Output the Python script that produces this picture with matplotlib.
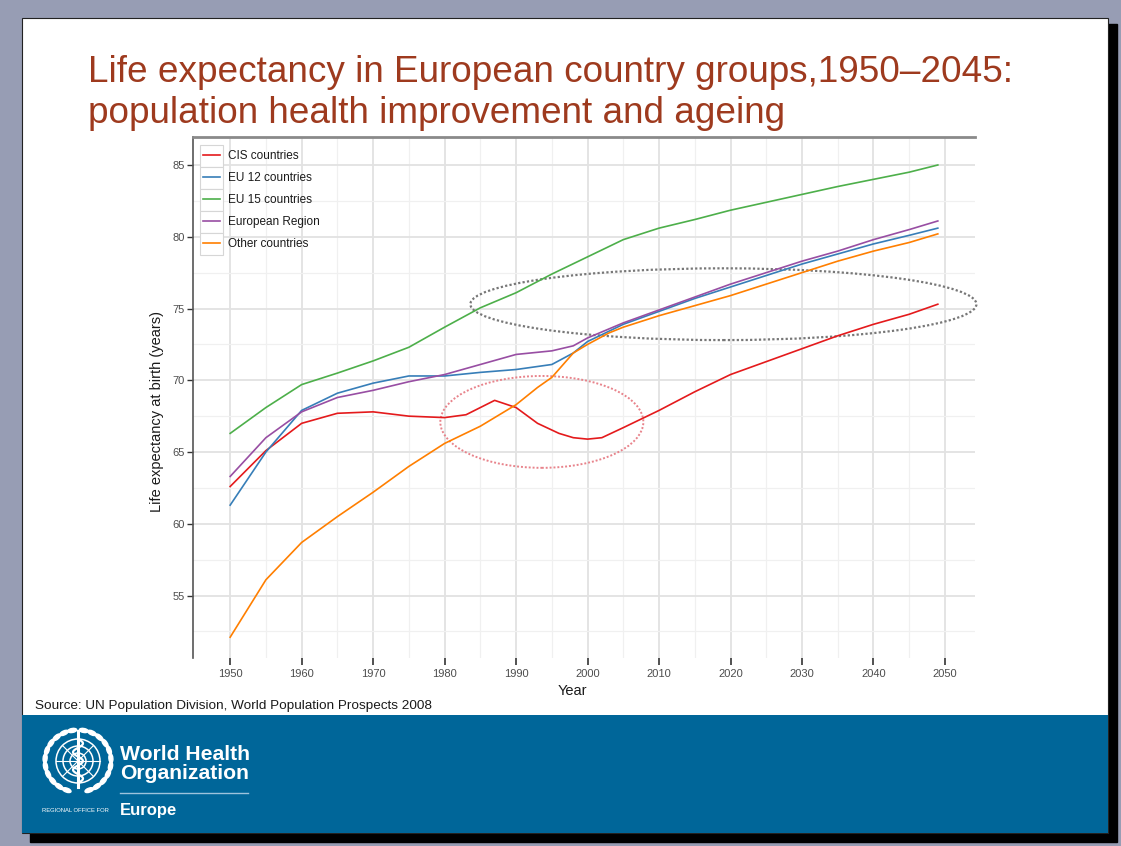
import numpy as np
import matplotlib
matplotlib.use("Agg")
from matplotlib import pyplot as plt
from matplotlib.patches import Rectangle, Ellipse, Circle

plt.rcParams["font.family"] = ["Liberation Sans", "DejaVu Sans"]

# life expectancy at birth (years)
years_cis = [1950, 1955, 1960, 1965, 1970, 1975, 1980, 1983, 1987, 1990, 1993, 1996, 1998,
             2000, 2002, 2005, 2010, 2015, 2020, 2025, 2030, 2035, 2040, 2045, 2049]
cis = [62.6, 65.1, 67.0, 67.7, 67.8, 67.5, 67.4, 67.6, 68.6, 68.1, 67.0, 66.3, 66.0,
       65.9, 66.0, 66.7, 67.9, 69.2, 70.4, 71.3, 72.2, 73.1, 73.9, 74.6, 75.3]

years_eu = [1950, 1955, 1960, 1965, 1970, 1975, 1980, 1985, 1990, 1995, 1998,
            2000, 2005, 2010, 2015, 2020, 2025, 2030, 2035, 2040, 2045, 2049]
eu12 = [61.3, 65.0, 67.9, 69.1, 69.8, 70.3, 70.3, 70.55, 70.75, 71.1, 71.9,
        72.7, 73.9, 74.8, 75.7, 76.5, 77.3, 78.1, 78.8, 79.5, 80.1, 80.6]
euro_region = [63.3, 66.0, 67.8, 68.8, 69.3, 69.9, 70.4, 71.1, 71.8, 72.05, 72.4,
               72.95, 74.0, 74.9, 75.8, 76.7, 77.5, 78.3, 79.0, 79.8, 80.5, 81.1]

years_eu15 = [1950, 1955, 1960, 1965, 1970, 1975, 1980, 1985, 1990, 1995, 2000,
              2005, 2010, 2015, 2020, 2025, 2030, 2035, 2040, 2045, 2049]
eu15 = [66.3, 68.1, 69.7, 70.5, 71.35, 72.3, 73.7, 75.05, 76.1, 77.4, 78.6,
        79.8, 80.6, 81.2, 81.85, 82.4, 82.95, 83.5, 84.0, 84.5, 85.0]

years_other = [1950, 1955, 1960, 1965, 1970, 1975, 1980, 1985, 1990, 1993, 1995, 1998,
               2000, 2003, 2005, 2010, 2015, 2020, 2025, 2030, 2035, 2040, 2045, 2049]
other = [52.1, 56.1, 58.7, 60.5, 62.2, 64.0, 65.6, 66.8, 68.3, 69.5, 70.2, 71.9,
         72.5, 73.3, 73.7, 74.5, 75.2, 75.9, 76.7, 77.5, 78.3, 79.0, 79.6, 80.2]

series = [
    ("CIS countries", years_cis, cis, "#E41A1C"),
    ("EU 12 countries", years_eu, eu12, "#377EB8"),
    ("EU 15 countries", years_eu15, eu15, "#4DAF4A"),
    ("European Region", years_eu, euro_region, "#984EA3"),
    ("Other countries", years_other, other, "#FF7F00"),
]

W, H = 1121, 846
fig = plt.figure(figsize=(W / 100, H / 100), dpi=100)
fig.patch.set_facecolor("#979DB4")

# slide background, drawn in pixel coordinates
deco = fig.add_axes([0, 0, 1, 1])
deco.set_xlim(0, W)
deco.set_ylim(H, 0)
deco.axis("off")
deco.add_patch(Rectangle((30, 24), 1087, 818, color="black"))
deco.add_patch(Rectangle((22, 18), 1086, 815, facecolor="white", edgecolor="#222222", lw=0.8))
deco.add_patch(Rectangle((22, 715), 1086, 118, facecolor="#006699", edgecolor="none"))

title_color = "#9E3A1E"
deco.text(88, 82, "Life expectancy in European country groups,1950\u20132045:",
          fontsize=26.6, color=title_color, va="baseline")
deco.text(88, 123, "population health improvement and ageing",
          fontsize=26.6, color=title_color, va="baseline")
deco.text(35, 706, "Source: UN Population Division, World Population Prospects 2008",
          fontsize=9.7, color="#1a1a1a", va="center")

# WHO emblem (simplified)
cx, cy = 78, 761
for r in (8, 15, 22):
    deco.add_patch(Circle((cx, cy), r, fill=False, ec="white", lw=1.1))
for ang in np.arange(0, 180, 45):
    a = np.deg2rad(ang)
    deco.plot([cx - 22 * np.cos(a), cx + 22 * np.cos(a)],
              [cy - 22 * np.sin(a), cy + 22 * np.sin(a)], color="white", lw=0.8)
deco.plot([cx, cx], [cy - 30, cy + 26], color="white", lw=2.2)
t = np.linspace(0, 1, 60)
deco.plot(cx + 5 * np.sin(t * 5 * np.pi), cy - 22 + 44 * t, color="white", lw=1.6)
for side in (-1, 1):
    for ang in np.linspace(100, 250, 11):
        a = np.deg2rad(ang)
        lx = cx + side * 33 * np.cos(a) * -1
        ly = cy + 31 * np.sin(a) * -1
        deco.add_patch(Ellipse((lx, ly), 4, 9, angle=side * (ang - 180), color="white"))

logo_font = ["Liberation Sans Narrow", "Liberation Sans"]
deco.text(120, 760, "World Health", fontsize=15.2, fontweight="bold", color="white",
          va="baseline", family=logo_font)
deco.text(120, 779, "Organization", fontsize=15.2, fontweight="bold", color="white",
          va="baseline", family=logo_font)
deco.plot([120, 248], [793, 793], color="#9EC3DC", lw=1)
deco.text(120, 815, "Europe", fontsize=12, fontweight="bold", color="white",
          va="baseline", family=logo_font)
deco.text(42, 811, "REGIONAL OFFICE FOR", fontsize=4.2, color="white", va="center",
          family=logo_font)

# chart panel
L, R, T, B = 193, 975, 137, 658
ax = fig.add_axes([L / W, 1 - B / H, (R - L) / W, (B - T) / H])
ax.set_facecolor("none")
ax.set_xlim(1944.8, 2054.2)
ax.set_ylim(50.65, 86.95)

ax.set_xticks(np.arange(1950, 2051, 10))
ax.set_xticks(np.arange(1955, 2050, 10), minor=True)
ax.set_yticks(np.arange(55, 86, 5))
ax.set_yticks(np.arange(52.5, 85, 5), minor=True)
ax.grid(True, which="major", color="#E2E2E2", lw=1.3)
ax.grid(True, which="minor", color="#F0F0F0", lw=0.9)
ax.set_axisbelow(True)

for sp in ("right", "bottom"):
    ax.spines[sp].set_visible(False)
ax.spines["left"].set_color("#555555")
ax.spines["left"].set_linewidth(1.2)
ax.spines["top"].set_color("#8A8A8A")
ax.spines["top"].set_linewidth(2)

ax.tick_params(axis="both", which="minor", length=0)
ax.tick_params(axis="y", which="major", length=4, width=1, color="#333333",
               labelsize=8, labelcolor="#4D4D4D", pad=2)
ax.tick_params(axis="x", which="major", length=5, width=1.2, color="#333333",
               labelsize=8, labelcolor="#4D4D4D", pad=3)

handles = []
for name, yrs, vals, col in series:
    h, = ax.plot(yrs, vals, color=col, lw=1.2, label=name)
    handles.append(h)

ax.add_patch(Ellipse((2019.0, 75.3), 70.8, 5.0, fill=False, ec="#777777",
                     lw=1.6, ls=(0, (1, 1)), clip_on=False))
ax.add_patch(Ellipse((1993.6, 67.1), 28.4, 6.4, fill=False, ec="#E8838B",
                     lw=1.4, ls=(0, (1, 1)), clip_on=False))

ax.set_xlabel("Year", fontsize=10.5, color="#1a1a1a", labelpad=0)
ax.xaxis.set_label_coords((572 - L) / (R - L), (B - 691) / (B - T))
ax.xaxis.label.set_va("center")
ax.set_ylabel("Life expectancy at birth (years)", fontsize=10.5, color="#1a1a1a")
ax.yaxis.set_label_coords((157 - L) / (R - L), (B - 411) / (B - T))
ax.yaxis.label.set_va("center")


def to_ax(x, y):
    return (x - L) / (R - L), (B - y) / (B - T)


# legend key boxes
for i in range(len(series)):
    bx, by = to_ax(200, 144.5 + 22 * (i + 1))
    ax.add_patch(Rectangle((bx, by), 23 / (R - L), 22 / (B - T), transform=ax.transAxes,
                           facecolor="white", edgecolor="#D6D6D6", lw=0.8, zorder=1.5))

lx, ly = to_ax(203, 150)
leg = ax.legend(handles=handles, loc="upper left", bbox_to_anchor=(lx, ly), frameon=False,
                fontsize=8.5, handlelength=1.44, handletextpad=0.72, labelspacing=0.855,
                borderpad=0, borderaxespad=0)
for txt in leg.get_texts():
    txt.set_color("#1a1a1a")

fig.savefig("out.png", dpi=100, facecolor=fig.get_facecolor())
